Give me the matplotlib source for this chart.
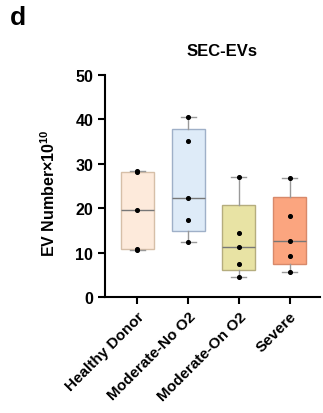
import numpy as np
import matplotlib
matplotlib.use('Agg')
import matplotlib.pyplot as plt

# Data
groups = ['Healthy Donor', 'Moderate-No O2', 'Moderate-On O2', 'Severe']
healthy = [28.4, 28.1, 19.6, 10.9, 10.6]
mod_no = [40.6, 35.2, 22.3, 17.4, 12.3]
mod_on = [27.1, 14.4, 11.2, 7.5, 4.5]
severe = [26.9, 18.3, 12.7, 9.3, 5.7]
yticks = [0, 10, 20, 30, 40, 50]

fills = ['#fdeadb', '#deebf8', '#e8e3a4', '#fba57f']
edges = ['#d6bfa8', '#9fb0c8', '#b5ad7e', '#d8896a']

plt.rcParams['font.family'] = ['Liberation Sans', 'DejaVu Sans']
plt.rcParams['font.weight'] = 'bold'
plt.rcParams['mathtext.fontset'] = 'custom'
plt.rcParams['mathtext.rm'] = 'Liberation Sans:bold'
plt.rcParams['mathtext.bf'] = 'Liberation Sans:bold'
plt.rcParams['mathtext.default'] = 'bf'

fig = plt.figure(figsize=(3.23, 4.14), dpi=100)
ax = fig.add_axes([105 / 323, 1 - 298 / 414, 215 / 323, 222 / 414])

data = [healthy, mod_no, mod_on, severe]
stats = []
for d in data:
    q1, med, q3 = np.percentile(d, [25, 50, 75], method='weibull')
    stats.append({'med': med, 'q1': q1, 'q3': q3, 'whislo': min(d), 'whishi': max(d)})

x = np.arange(len(groups))
for i, s in enumerate(stats):
    ax.bxp([s], positions=[x[i]], widths=0.65, showfliers=False, patch_artist=True,
           boxprops=dict(facecolor=fills[i], edgecolor=edges[i], linewidth=1.0),
           medianprops=dict(color='#777777', linewidth=1.0),
           whiskerprops=dict(color='#999999', linewidth=1.0),
           capprops=dict(color='#999999', linewidth=1.0),
           capwidths=0.3)
    ax.scatter(np.full(len(data[i]), x[i]), data[i], s=7, color='black', zorder=3)

ax.set_xlim(-0.64, 3.6)
ax.set_ylim(0, 50)
ax.set_yticks(yticks)
ax.set_xticks(x)
ax.set_xticklabels(groups, rotation=45, ha='right', rotation_mode='anchor', fontsize=11, fontweight='bold')
ax.tick_params(axis='y', labelsize=11.5, width=1.5, length=5)
ax.tick_params(axis='x', width=1.5, length=5)
for lbl in ax.get_yticklabels():
    lbl.set_fontweight('bold')
ax.spines['top'].set_visible(False)
ax.spines['right'].set_visible(False)
ax.spines['left'].set_linewidth(1.5)
ax.spines['bottom'].set_linewidth(1.5)

ax.set_ylabel('EV Number×10$^{10}$', fontsize=11.5, fontweight='bold')
ax.yaxis.set_label_coords(-0.22, 0.47)
fig.text(222 / 323, 1 - 52 / 414, 'SEC-EVs', ha='center', va='center', fontsize=12, fontweight='bold')
fig.text(10 / 323, 1 - 18 / 414, 'd', ha='left', va='center', fontsize=19, fontweight='bold')

plt.savefig('out.png', dpi=100)
plt.close()
